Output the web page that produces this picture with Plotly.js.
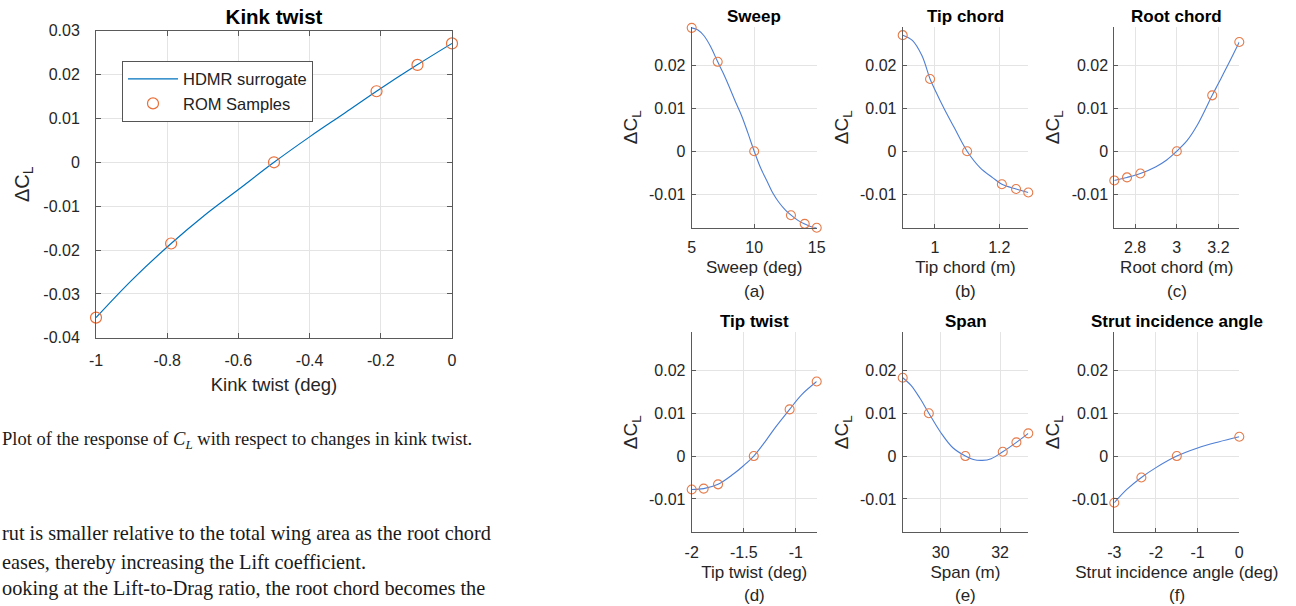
<!DOCTYPE html>
<html><head><meta charset="utf-8">
<script src="https://cdn.plot.ly/plotly-3.0.1.min.js"></script>
<style>html,body{margin:0;padding:0;background:#fff}#chart{width:1296px;height:606px}</style>
</head><body><div id="chart"></div>
<script>
// ---- Kink twist (left chart) ----
const kinkSampleX = [-1, -0.789, -0.5, -0.212, -0.097, 0];
const kinkSampleY = [-0.0354, -0.0185, 0, 0.0162, 0.0222, 0.0271];
const kinkCurveX = [-1, -0.9, -0.789, -0.7, -0.6, -0.5, -0.4, -0.3, -0.212, -0.1, 0];
const kinkCurveY = [-0.0354, -0.0269, -0.0185, -0.0124, -0.0062, 0, 0.0058, 0.0113, 0.0162, 0.0221, 0.0271];
const kinkTickX = [-1, -0.8, -0.6, -0.4, -0.2, 0];
const kinkTickXText = ['-1', '-0.8', '-0.6', '-0.4', '-0.2', '0'];
const kinkTickY = [-0.04, -0.03, -0.02, -0.01, 0, 0.01, 0.02, 0.03];
const kinkTickYText = ['-0.04', '-0.03', '-0.02', '-0.01', '0', '0.01', '0.02', '0.03'];

// ---- Six sensitivity panels ----
const sweepX = [5, 7.08, 10, 12.94, 14.04, 15];
const sweepY = [0.0287, 0.0208, 0, -0.0149, -0.0169, -0.0178];
const sweepCurveX = [5, 5.5, 6, 6.5, 7.08, 7.5, 8, 8.5, 9, 9.5, 10, 10.5, 11, 11.5, 12, 12.5, 13, 13.5, 14, 14.5, 15];
const sweepCurveY = [0.0287, 0.0282, 0.0268, 0.0244, 0.0208, 0.0183, 0.0150, 0.0115, 0.0082, 0.0042, 0, -0.0038, -0.0068, -0.0098, -0.0120, -0.0137, -0.0150, -0.0161, -0.0169, -0.0175, -0.0178];

const tipChordX = [0.9, 0.985, 1.1, 1.208, 1.252, 1.29];
const tipChordY = [0.0270, 0.0168, 0, -0.0077, -0.0088, -0.0096];
const tipChordCurveX = [0.9, 0.93, 0.96, 0.985, 1.0, 1.03, 1.06, 1.1, 1.14, 1.18, 1.208, 1.252, 1.29];
const tipChordCurveY = [0.0270, 0.0258, 0.0222, 0.0168, 0.0143, 0.0097, 0.0055, 0, -0.0038, -0.0062, -0.0077, -0.0088, -0.0096];

const rootChordX = [2.7, 2.761, 2.825, 3.0, 3.17, 3.3];
const rootChordY = [-0.0068, -0.0061, -0.0052, 0, 0.0130, 0.0254];
const rootChordCurveX = [2.7, 2.761, 2.825, 2.9, 2.95, 3.0, 3.05, 3.1, 3.17, 3.2, 3.25, 3.3];
const rootChordCurveY = [-0.0068, -0.0061, -0.0052, -0.0036, -0.0021, 0, 0.0025, 0.0062, 0.0130, 0.0158, 0.0205, 0.0254];

const tipTwistX = [-2, -1.885, -1.747, -1.404, -1.06, -0.8];
const tipTwistY = [-0.0078, -0.0076, -0.0066, 0, 0.0109, 0.0174];
const tipTwistCurveX = [-2, -1.885, -1.747, -1.6, -1.5, -1.404, -1.3, -1.2, -1.06, -0.95, -0.8];
const tipTwistCurveY = [-0.0078, -0.0076, -0.0066, -0.0042, -0.0022, 0, 0.0032, 0.0066, 0.0109, 0.0142, 0.0174];

const spanX = [28.72, 29.6, 30.83, 32.09, 32.55, 32.95];
const spanY = [0.0183, 0.0100, 0, 0.0010, 0.0032, 0.0053];
const spanCurveX = [28.72, 29.0, 29.3, 29.6, 30.0, 30.4, 30.83, 31.1, 31.4, 31.7, 32.09, 32.55, 32.95];
const spanCurveY = [0.0183, 0.0165, 0.0135, 0.0100, 0.0055, 0.0020, 0, -0.0008, -0.0010, -0.0006, 0.0010, 0.0032, 0.0053];

const strutX = [-3, -2.35, -1.5, 0];
const strutY = [-0.0109, -0.0050, 0, 0.0045];
const strutCurveX = [-3, -2.7, -2.35, -2, -1.5, -1, -0.5, 0];
const strutCurveY = [-0.0109, -0.0078, -0.0050, -0.0027, 0, 0.0019, 0.0033, 0.0045];

const panelTitles = ['Sweep', 'Tip chord', 'Root chord', 'Tip twist', 'Span', 'Strut incidence angle'];
const panelXTitles = ['Sweep (deg)', 'Tip chord (m)', 'Root chord (m)', 'Tip twist (deg)', 'Span (m)', 'Strut incidence angle (deg)'];
const panelLetters = ['(a)', '(b)', '(c)', '(d)', '(e)', '(f)'];
const panelXRanges = [[5, 15], [0.9, 1.29], [2.7, 3.3], [-2, -0.8], [28.72, 32.95], [-3, 0]];
const panelXTicks = [[5, 10, 15], [1, 1.2], [2.8, 3, 3.2], [-2, -1.5, -1], [30, 32], [-3, -2, -1, 0]];
const panelXTickText = [['5', '10', '15'], ['1', '1.2'], ['2.8', '3', '3.2'], ['-2', '-1.5', '-1'], ['30', '32'], ['-3', '-2', '-1', '0']];
const panelYTicks = [-0.01, 0, 0.01, 0.02];
const panelYTickText = ['-0.01', '0', '0.01', '0.02'];
const panelYRange = [-0.0178, 0.0289];

const panelSamplesX = [sweepX, tipChordX, rootChordX, tipTwistX, spanX, strutX];
const panelSamplesY = [sweepY, tipChordY, rootChordY, tipTwistY, spanY, strutY];
const panelCurvesX = [sweepCurveX, tipChordCurveX, rootChordCurveX, tipTwistCurveX, spanCurveX, strutCurveX];
const panelCurvesY = [sweepCurveY, tipChordCurveY, rootChordCurveY, tipTwistCurveY, spanCurveY, strutCurveY];

// ---- Text from the page ----
const captionText = 'Plot of the response of <i>C<sub>L</sub></i> with respect to changes in kink twist.';
const bodyLines = [
  'rut is smaller relative to the total wing area as the root chord',
  'eases, thereby increasing the Lift coefficient.',
  'ooking at the Lift-to-Drag ratio, the root chord becomes the'
];

// ---- Layout geometry (pixels) ----
const W = 1296, H = 606;
const px = v => v / W;
const py = v => 1 - v / H;
const colPx = [[691.7, 816.7], [902.7, 1028.3], [1114.3, 1239.3]];
const rowPx = [[27, 227.7], [332.3, 532.3]];

const AXC = '#5a5a5a', GRID = '#e4e4e4', TXT = '#262626';
const FONT = 'Liberation Sans, Arial, sans-serif';
const SERIF = 'Liberation Serif, Times New Roman, serif';

const traces = [];
traces.push({
  x: kinkCurveX, y: kinkCurveY, type: 'scatter', mode: 'lines', name: 'HDMR surrogate',
  line: {color: '#0072BD', width: 1.2, shape: 'spline', smoothing: 1}, xaxis: 'x', yaxis: 'y'
});
traces.push({
  x: kinkSampleX, y: kinkSampleY, type: 'scatter', mode: 'markers', name: 'ROM Samples',
  marker: {symbol: 'circle-open', size: 11, color: '#E8703A', line: {width: 1.2}}, cliponaxis: false,
  xaxis: 'x', yaxis: 'y'
});

const layout = {
  width: W, height: H, margin: {l: 0, r: 0, t: 0, b: 0},
  paper_bgcolor: '#fff', plot_bgcolor: '#fff',
  font: {family: FONT, color: TXT, size: 16},
  showlegend: true,
  legend: {
    x: px(122), y: py(60.7), xanchor: 'left', yanchor: 'top',
    bgcolor: '#fff', bordercolor: '#555', borderwidth: 1, itemwidth: 50,
    font: {size: 16.5, color: '#222'}, tracegroupgap: 0
  },
  title: {text: '<b>Kink twist</b>', x: px(274), y: py(17), xanchor: 'center', yanchor: 'middle',
          font: {size: 20.5, color: '#000'}},
  xaxis: {
    domain: [px(96), px(452)], anchor: 'y', range: [-1, 0],
    tickmode: 'array', tickvals: kinkTickX, ticktext: kinkTickXText,
    ticks: 'inside', ticklen: 5, tickcolor: AXC, mirror: 'ticks',
    showline: true, linecolor: AXC, linewidth: 1, showgrid: true, gridcolor: GRID, zeroline: false,
    tickfont: {size: 16, color: TXT}, ticklabelstandoff: 8,
    title: {text: 'Kink twist (deg)', font: {size: 18.5, color: TXT}, standoff: 10}
  },
  yaxis: {
    domain: [py(337.8), py(30.7)], anchor: 'x', range: [-0.04, 0.03],
    tickmode: 'array', tickvals: kinkTickY, ticktext: kinkTickYText,
    ticks: 'inside', ticklen: 5, tickcolor: AXC, mirror: 'ticks',
    showline: true, linecolor: AXC, linewidth: 1, showgrid: true, gridcolor: GRID, zeroline: false,
    tickfont: {size: 16, color: TXT}, ticklabelstandoff: 12,
    title: {text: 'ΔC<sub>L</sub>', font: {size: 20, color: TXT}, standoff: 8}
  },
  annotations: []
};

for (let i = 0; i < 6; i++) {
  const r = Math.floor(i / 3), c = i % 3;
  const n = i + 2;
  const xa = 'xaxis' + n, ya = 'yaxis' + n;
  layout[xa] = {
    domain: [px(colPx[c][0]), px(colPx[c][1])], anchor: 'y' + n, range: panelXRanges[i],
    tickmode: 'array', tickvals: panelXTicks[i], ticktext: panelXTickText[i],
    ticks: 'inside', ticklen: 4, tickcolor: AXC,
    showline: true, linecolor: AXC, linewidth: 1, showgrid: true, gridcolor: GRID, zeroline: false,
    tickfont: {size: 16, color: TXT}, ticklabelstandoff: 5,
    title: {text: panelXTitles[i], font: {size: 17, color: TXT}, standoff: 6}
  };
  layout[ya] = {
    domain: [py(rowPx[r][1]), py(rowPx[r][0])], anchor: 'x' + n, range: panelYRange,
    tickmode: 'array', tickvals: panelYTicks, ticktext: panelYTickText,
    ticks: 'inside', ticklen: 4, tickcolor: AXC,
    showline: true, linecolor: AXC, linewidth: 1, showgrid: true, gridcolor: GRID, zeroline: false,
    tickfont: {size: 16, color: TXT}, ticklabelstandoff: 2,
    title: {text: 'ΔC<sub>L</sub>', font: {size: 19, color: TXT}, standoff: 6}
  };
  traces.push({
    x: panelCurvesX[i], y: panelCurvesY[i], type: 'scatter', mode: 'lines', showlegend: false,
    line: {color: '#4F7FD4', width: 1.1, shape: 'spline', smoothing: 1},
    xaxis: 'x' + n, yaxis: 'y' + n, hoverinfo: 'skip'
  });
  traces.push({
    x: panelSamplesX[i], y: panelSamplesY[i], type: 'scatter', mode: 'markers', showlegend: false,
    marker: {symbol: 'circle-open', size: 9, color: '#E57B4A', line: {width: 1.1}}, cliponaxis: false,
    xaxis: 'x' + n, yaxis: 'y' + n
  });
  const cx = (colPx[c][0] + colPx[c][1]) / 2;
  layout.annotations.push({
    text: '<b>' + panelTitles[i] + '</b>', xref: 'paper', yref: 'paper',
    x: px(cx), y: py(r === 0 ? 16.7 : 321), xanchor: 'center', yanchor: 'middle',
    showarrow: false, font: {family: FONT, size: 17, color: '#000'}
  });
  layout.annotations.push({
    text: panelLetters[i], xref: 'paper', yref: 'paper',
    x: px(cx), y: py(r === 0 ? 291 : 595), xanchor: 'center', yanchor: 'middle',
    showarrow: false, font: {family: FONT, size: 17, color: TXT}
  });
}

layout.annotations.push({
  text: captionText, xref: 'paper', yref: 'paper', x: 0, y: py(440),
  xanchor: 'left', yanchor: 'middle', showarrow: false,
  font: {family: SERIF, size: 18.5, color: '#1a1a1a'}
});
const bodyY = [533, 562, 588];
bodyLines.forEach((t, k) => layout.annotations.push({
  text: t, xref: 'paper', yref: 'paper', x: 0, y: py(bodyY[k]),
  xanchor: 'left', yanchor: 'middle', showarrow: false,
  font: {family: SERIF, size: 20.3, color: '#1a1a1a'}
}));

Plotly.newPlot('chart', traces, layout, {displayModeBar: false});
</script>
</body></html>
